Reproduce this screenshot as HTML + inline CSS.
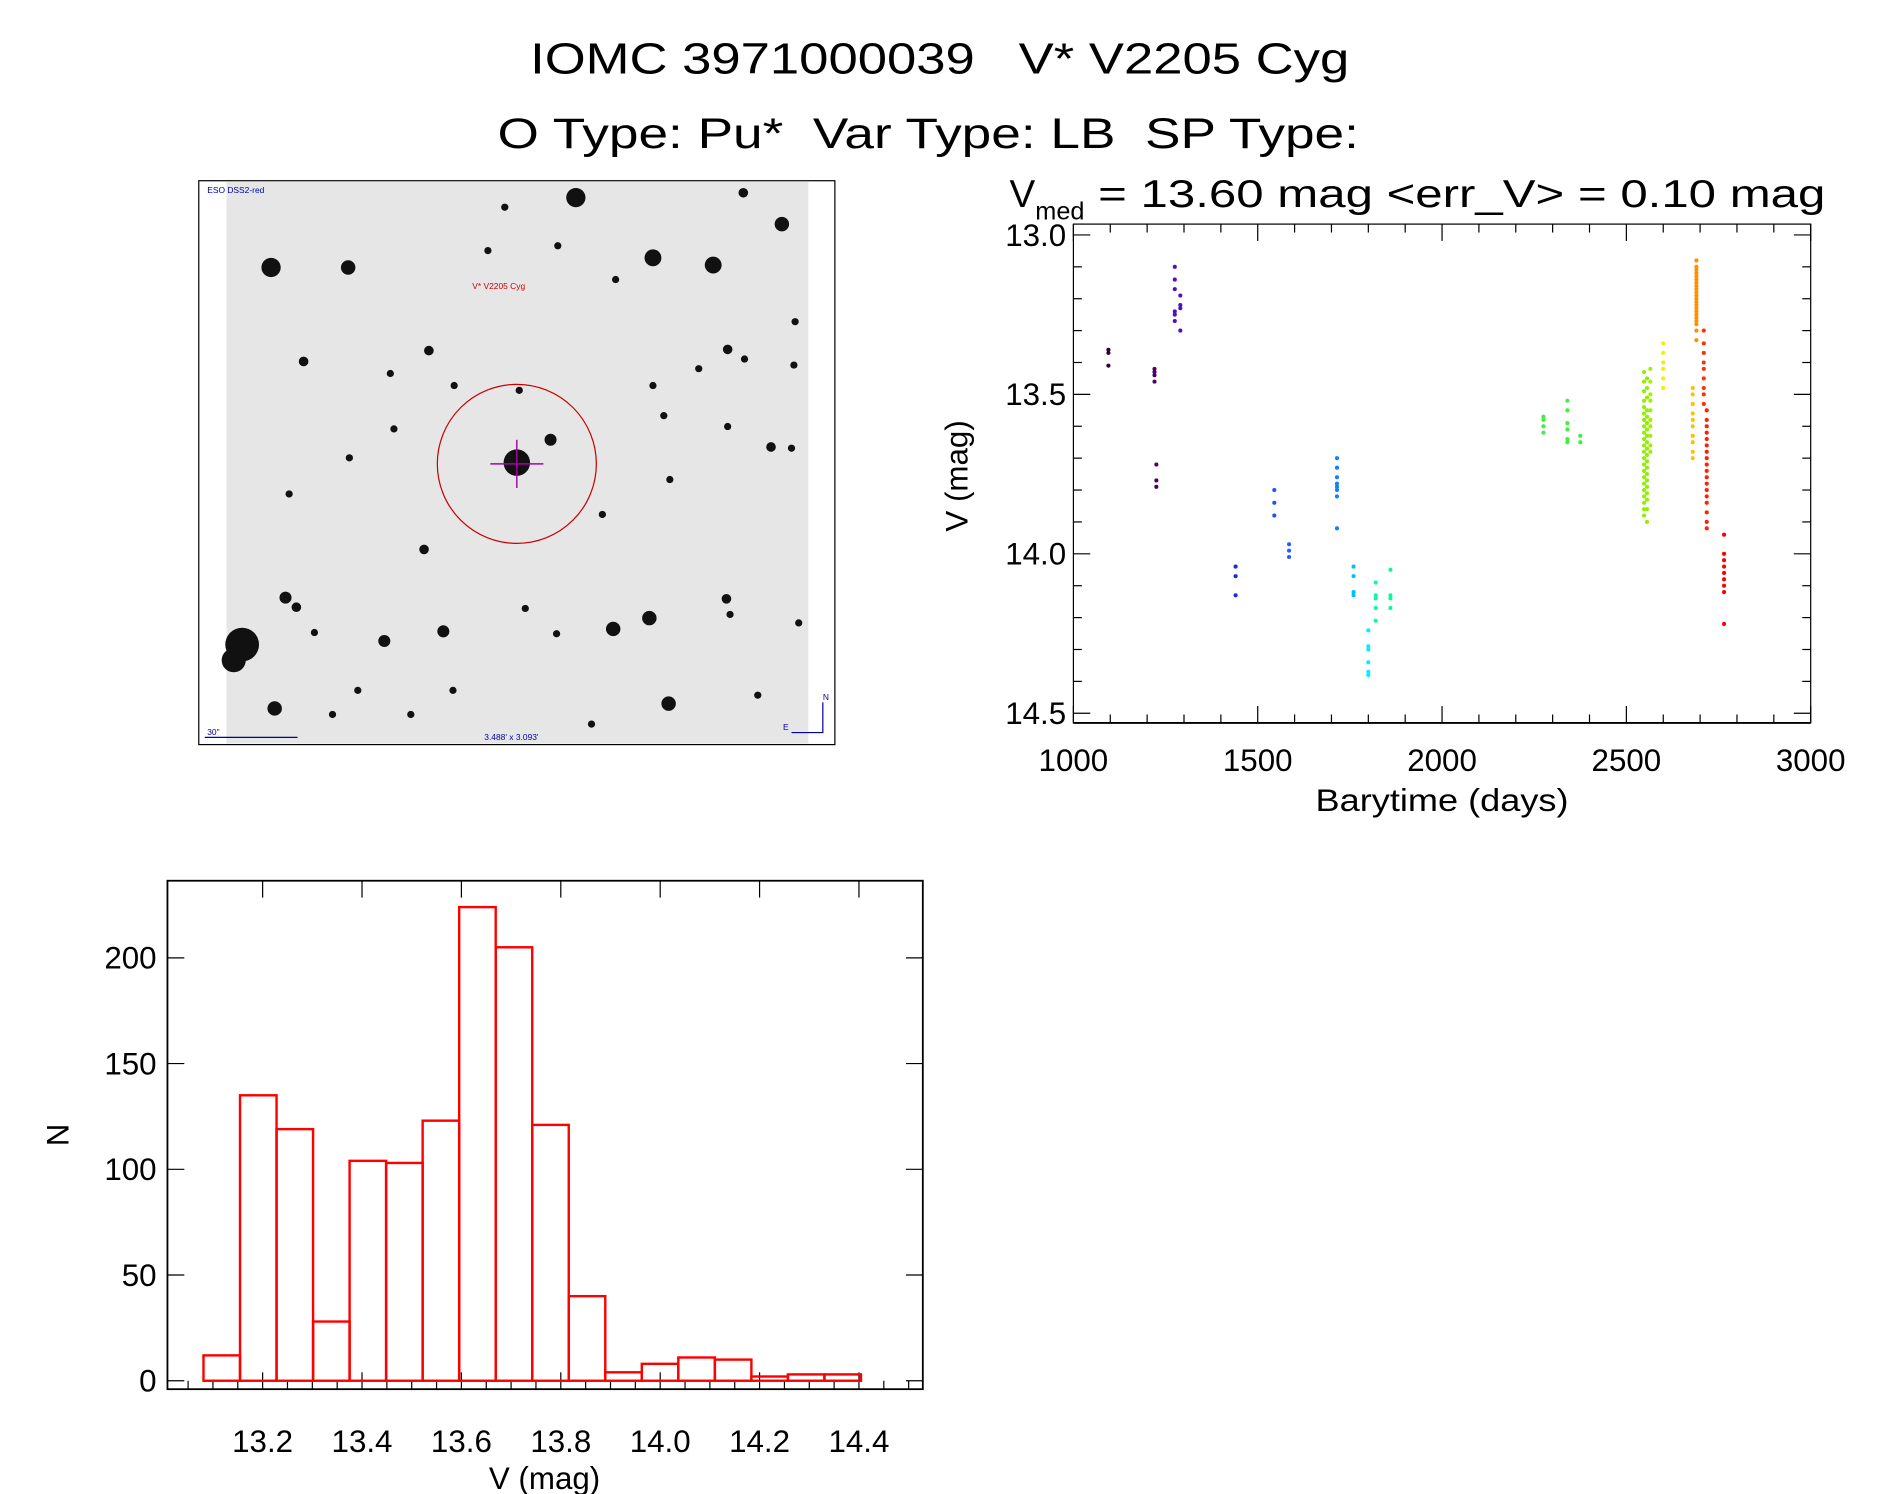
<!DOCTYPE html>
<html><head><meta charset="utf-8"><style>
html,body{margin:0;padding:0;background:#fff;}
svg{display:block;font-family:"Liberation Sans",sans-serif;}
</style></head><body>
<svg id="s" width="1889" height="1494" viewBox="0 0 1568 1240" preserveAspectRatio="none" xmlns="http://www.w3.org/2000/svg">
<text x="440" y="61" font-size="36" textLength="680" lengthAdjust="spacingAndGlyphs" xml:space="preserve">IOMC 3971000039   V* V2205 Cyg</text>
<text x="413" y="123" font-size="35" textLength="715" lengthAdjust="spacingAndGlyphs" xml:space="preserve">O Type: Pu*  Var Type: LB  SP Type:</text>
<text x="838" y="172" font-size="32">V<tspan font-size="21" dy="10">med</tspan><tspan dy="-10" textLength="615" lengthAdjust="spacingAndGlyphs"> = 13.60 mag &lt;err_V&gt; = 0.10 mag</tspan></text>

<g>
<rect x="165" y="150" width="528" height="468" fill="#fff" stroke="#000" stroke-width="1"/>
<rect x="188" y="151" width="483" height="466" fill="#e6e6e6"/>
<g id="stars" fill="#111"></g>
<circle cx="429" cy="385" r="66" fill="none" stroke="#c00" stroke-width="1"/>
<line x1="407" y1="385" x2="451" y2="385" stroke="#a0a" stroke-width="1.2"/>
<line x1="429" y1="365" x2="429" y2="405" stroke="#a0a" stroke-width="1.2"/>
<text x="392" y="240" font-size="7" fill="#c00">V* V2205 Cyg</text>
<text x="172" y="160" font-size="7" fill="#00a">ESO DSS2-red</text>
<text x="172" y="610" font-size="7" fill="#00a">30"</text>
<line x1="170" y1="612" x2="247" y2="612" stroke="#00a"/>
<text x="402" y="614" font-size="7" fill="#00a">3.488' x 3.093'</text>
<path d="M657 608 H683 V583" stroke="#00a" fill="none"/>
<text x="683" y="581" font-size="7" fill="#00a">N</text><text x="650" y="606" font-size="7" fill="#00a">E</text>
</g>

<g id="lc"></g>
<g id="hist"></g>
</svg>
<script>
// ---- light curve data ----
const lcTimes = [1095,1220,1225,1275,1290,1440,1545,1585,1715,1760,1800,1820,1860,2275,2340,2375,2548,2556,2565,2600,2680,2690,2710,2718,2765];
const lcMags = [
 [13.36,13.37,13.41],
 [13.42,13.43,13.44,13.46],
 [13.72,13.77,13.79],
 [13.10,13.14,13.17,13.24,13.25,13.27],
 [13.19,13.22,13.23,13.30],
 [14.04,14.07,14.13],
 [13.80,13.84,13.88],
 [13.97,13.99,14.01],
 [13.70,13.73,13.76,13.78,13.79,13.80,13.82,13.92],
 [14.04,14.07,14.12,14.13],
 [14.24,14.29,14.30,14.34,14.37,14.38],
 [14.09,14.13,14.14,14.17,14.21],
 [14.05,14.13,14.14,14.17],
 [13.57,13.58,13.60,13.62],
 [13.52,13.55,13.59,13.61,13.64,13.65],
 [13.63,13.65],
 [13.43,13.46,13.49,13.52,13.54,13.56,13.58,13.60,13.62,13.64,13.66,13.68,13.70,13.72,13.74,13.76,13.78,13.80,13.82,13.84,13.86,13.88],
 [13.45,13.48,13.51,13.55,13.57,13.59,13.61,13.63,13.65,13.67,13.69,13.71,13.73,13.75,13.77,13.79,13.81,13.83,13.86,13.90],
 [13.42,13.46,13.50,13.52,13.55,13.58,13.60,13.63,13.66,13.68],
 [13.34,13.37,13.40,13.42,13.45,13.48],
 [13.48,13.50,13.53,13.56,13.58,13.60,13.63,13.65,13.68,13.70],
 [13.08,13.10,13.11,13.12,13.13,13.14,13.15,13.16,13.17,13.18,13.19,13.20,13.21,13.22,13.23,13.24,13.25,13.26,13.27,13.28,13.30,13.33],
 [13.30,13.34,13.37,13.40,13.42,13.45,13.48,13.50,13.53],
 [13.55,13.58,13.60,13.62,13.64,13.66,13.68,13.70,13.72,13.74,13.76,13.78,13.80,13.82,13.84,13.87,13.90,13.92],
 [13.94,14.00,14.02,14.04,14.06,14.08,14.10,14.12,14.22]
];
const lcColors = ["#300030","#500060","#500060","#5010c0","#5010c0","#1030e0","#2050ff","#2060ff","#1080ff","#00c0ff","#00f0ff","#00ffa0","#00ff90","#40f040","#40f040","#40f040","#90f000","#90f000","#a0f000","#f0f000","#ffc000","#ff9000","#ff3000","#ff2000","#ff0000"];
const lcXTicks = [1000,1500,2000,2500,3000];
const lcYTicks = [13.0,13.5,14.0,14.5];
// ---- histogram data ----
const histStart = 13.081, histWidth = 0.0735;
const histCounts = [12,135,119,28,104,103,123,224,205,121,40,4,8,11,10,2,3,3];
const histXTicks = [13.2,13.4,13.6,13.8,14.0,14.2,14.4];
const histYTicks = [0,50,100,150,200];

const NS="http://www.w3.org/2000/svg";
function mk(parent,tag,attrs,text){const e=document.createElementNS(NS,tag);for(const k in attrs)e.setAttribute(k,attrs[k]);if(text!==undefined)e.textContent=text;parent.appendChild(e);return e;}

const stars=[[478,164,8],[649,186,6],[225,222,8],[289,222,6],[542,214,7],[592,220,7],[405,208,3],[463,204,3],[511,232,3],[252,300,4],[356,291,4],[604,290,4],[618,298,3],[377,320,3],[324,310,3],[431,324,3],[457,365,5],[327,356,3],[604,354,3],[640,371,4],[657,372,3],[556,398,3],[500,427,3],[352,456,4],[237,496,5],[246,504,4],[261,525,3],[319,532,5],[368,524,5],[509,522,6],[539,513,6],[228,588,6],[555,584,6],[297,573,3],[376,573,3],[629,577,3],[603,497,4],[606,510,3],[663,517,3],[201,535,14],[194,548,10],[276,593,3],[341,593,3],[491,601,3],[660,267,3],[659,303,3],[542,320,3],[551,345,3],[580,306,3],[617,160,4],[419,172,3],[240,410,3],[290,380,3],[436,505,3],[462,526,3]];
const sg=document.getElementById('stars');
stars.forEach(s=>{const c=mk(sg,'circle',{cx:s[0],cy:s[1],r:s[2]});});
mk(sg,'circle',{cx:429,cy:384,r:11});

const lc=document.getElementById('lc');
const L={x0:891,x1:1503,y0:186,y1:600};
const lx=t=>L.x0+(t-1000)/2000*(L.x1-L.x0);
const ly=m=>195+(m-13.0)/1.5*(592-195);
mk(lc,'rect',{x:L.x0,y:L.y0,width:L.x1-L.x0,height:L.y1-L.y0,fill:'none',stroke:'#000','stroke-width':1});
mk(lc,'line',{x1:L.x0,y1:L.y1,x2:L.x1,y2:L.y1,stroke:'#000','stroke-width':1.6});
for(let t=1000;t<=3000;t+=100){const big=t%500===0,len=big?14:7;
 mk(lc,'line',{x1:lx(t),y1:L.y1,x2:lx(t),y2:L.y1-len,stroke:'#000'});
 mk(lc,'line',{x1:lx(t),y1:L.y0,x2:lx(t),y2:L.y0+len,stroke:'#000'});}
for(let i=0;i<=15;i++){const m=13+i*0.1,big=i%5===0,len=big?14:7;
 mk(lc,'line',{x1:L.x0,y1:ly(m),x2:L.x0+len,y2:ly(m),stroke:'#000'});
 mk(lc,'line',{x1:L.x1,y1:ly(m),x2:L.x1-len,y2:ly(m),stroke:'#000'});}
lcXTicks.forEach(t=>{const e=mk(lc,'text',{x:lx(t),y:640,'font-size':26,'text-anchor':'middle'},String(t));

});
lcYTicks.forEach(m=>{const e=mk(lc,'text',{x:885,y:ly(m)+9,'font-size':26,'text-anchor':'end'},m.toFixed(1));

});
let e=mk(lc,'text',{x:1197,y:673,'font-size':26,'text-anchor':'middle',textLength:210,lengthAdjust:'spacingAndGlyphs'},'Barytime (days)');


e=mk(lc,'text',{x:0,y:0,'font-size':26,'text-anchor':'middle',transform:'translate(803,395) rotate(-90)'},'V (mag)');


lcTimes.forEach((t,g)=>{lcMags[g].forEach(m=>{const p=mk(lc,'circle',{cx:lx(t),cy:ly(m),r:1.7,fill:lcColors[g]});

});});

const h=document.getElementById('hist');
const H={x0:139,x1:766,y0:731,y1:1153};
const hx=v=>218+(v-13.2)/1.2*(713-218);
const hy=n=>1146-n/200*(1146-795);
mk(h,'rect',{x:H.x0,y:H.y0,width:H.x1-H.x0,height:H.y1-H.y0,fill:'none',stroke:'#000','stroke-width':1.5});
for(let i=0;i<=30;i++){const v=13.05+i*0.05;if(hx(v)<=H.x0+2||hx(v)>=H.x1-2)continue;const k=Math.round(v*20);const big=(k%4===0),len=big?14:7;
 mk(h,'line',{x1:hx(v),y1:H.y1,x2:hx(v),y2:H.y1-len,stroke:'#000'});
 if(big)mk(h,'line',{x1:hx(v),y1:H.y0,x2:hx(v),y2:H.y0+len,stroke:'#000'});}
for(let n=0;n<=200;n+=50){mk(h,'line',{x1:H.x0,y1:hy(n),x2:H.x0+14,y2:hy(n),stroke:'#000'});mk(h,'line',{x1:H.x1,y1:hy(n),x2:H.x1-14,y2:hy(n),stroke:'#000'});}
histXTicks.forEach(v=>{const t=mk(h,'text',{x:hx(v),y:1205,'font-size':26,'text-anchor':'middle'},v.toFixed(1));

});
histYTicks.forEach(n=>{const t=mk(h,'text',{x:130,y:hy(n)+9,'font-size':26,'text-anchor':'end'},String(n));

});
e=mk(h,'text',{x:452,y:1236,'font-size':26,'text-anchor':'middle'},'V (mag)');


e=mk(h,'text',{x:0,y:0,'font-size':26,'text-anchor':'middle',transform:'translate(57,942) rotate(-90)'},'N');


histCounts.forEach((n,i)=>{const a=hx(histStart+i*histWidth),b=hx(histStart+(i+1)*histWidth);
 const r=mk(h,'rect',{x:a,y:hy(n),width:b-a,height:hy(0)-hy(n),fill:'none',stroke:'#f00','stroke-width':2});
 
 });
</script>
</body></html>
